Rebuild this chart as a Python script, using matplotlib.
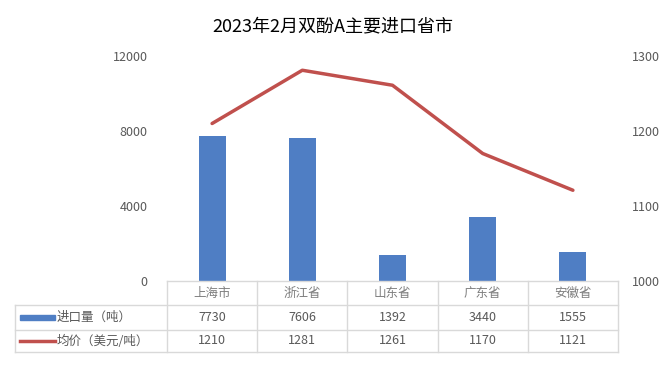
#!/usr/bin/env python
# coding: utf-8
import matplotlib
matplotlib.use('Agg')
import matplotlib.pyplot as plt
from matplotlib.lines import Line2D
from matplotlib.patches import Rectangle

plt.rcParams['font.family'] = ['Noto Sans CJK SC', 'DejaVu Sans']

# ### data
title = '2023年2月双酚A主要进口省市'
provinces = ['上海市', '浙江省', '山东省', '广东省', '安徽省']
volume = [7730, 7606, 1392, 3440, 1555]      # 进口量（吨）
price = [1210, 1281, 1261, 1170, 1121]       # 均价（美元/吨）
volume_label = '进口量（吨）'
price_label = '均价（美元/吨）'
left_ticks = [0, 4000, 8000, 12000]
right_ticks = [1000, 1100, 1200, 1300]

bar_color = '#4F7EC4'
line_color = '#C0504D'
text_color = '#595959'
grid_color = '#D9D9D9'

fig = plt.figure(figsize=(6.65, 3.66), dpi=100)
ax = fig.add_axes([167 / 665, 85 / 366, 451 / 665, 225 / 366])
ax2 = ax.twinx()

x = list(range(len(provinces)))
ax.bar(x, volume, width=0.3, color=bar_color, zorder=2)
ax2.plot(x, price, color=line_color, lw=2.5, solid_capstyle='round', zorder=3)

ax.set_xlim(-0.5, len(provinces) - 0.5)
ax.set_ylim(0, 12000)
ax2.set_ylim(1000, 1300)
ax.set_yticks(left_ticks)
ax2.set_yticks(right_ticks)
ax.set_xticks([])
for a in (ax, ax2):
    for s in a.spines.values():
        s.set_visible(False)
    a.tick_params(axis='y', length=0, labelsize=9, labelcolor=text_color)
ax.tick_params(axis='y', pad=14)
ax2.tick_params(axis='y', pad=10)

fig.text(0.5, 0.928, title, ha='center', va='center', fontsize=13, color='black')

# ### data table under the axes (axes coordinates)
n = len(provinces)
row_y = [0, -24 / 225, -49 / 225, -71 / 225]
left_x = (15 - 167) / 451
tr = ax.transAxes


def hline(x0, x1, y):
    ax.add_line(Line2D([x0, x1], [y, y], transform=tr, color=grid_color,
                       lw=1, clip_on=False))


def vline(xp, y0, y1):
    ax.add_line(Line2D([xp, xp], [y0, y1], transform=tr, color=grid_color,
                       lw=1, clip_on=False))


hline(0, 1, row_y[0])
for y in row_y[1:]:
    hline(left_x, 1, y)
for i in range(n + 1):
    vline(i / n, row_y[0], row_y[3])
vline(left_x, row_y[1], row_y[3])

for i, name in enumerate(provinces):
    cx = (i + 0.5) / n
    ax.text(cx, (row_y[0] + row_y[1]) / 2, name, transform=tr, ha='center',
            va='center', fontsize=9, color='#7F7F7F')
    ax.text(cx, (row_y[1] + row_y[2]) / 2, str(volume[i]), transform=tr,
            ha='center', va='center', fontsize=9, color=text_color)
    ax.text(cx, (row_y[2] + row_y[3]) / 2, str(price[i]), transform=tr,
            ha='center', va='center', fontsize=9, color=text_color)

# legend keys in the first column
sw0 = (20 - 167) / 451
sw1 = (55 - 167) / 451
ym1 = (row_y[1] + row_y[2]) / 2
ym2 = (row_y[2] + row_y[3]) / 2
ax.add_patch(Rectangle((sw0, ym1 - 0.012), sw1 - sw0, 0.024, transform=tr,
                       color=bar_color, clip_on=False))
ax.add_line(Line2D([sw0, sw1], [ym2, ym2], transform=tr, color=line_color,
                   lw=2.5, clip_on=False))
ax.text(sw1 + 0.003, ym1, volume_label, transform=tr, ha='left', va='center',
        fontsize=9, color=text_color)
ax.text(sw1 + 0.003, ym2, price_label, transform=tr, ha='left', va='center',
        fontsize=9, color=text_color)

fig.savefig('out.png', dpi=100)
